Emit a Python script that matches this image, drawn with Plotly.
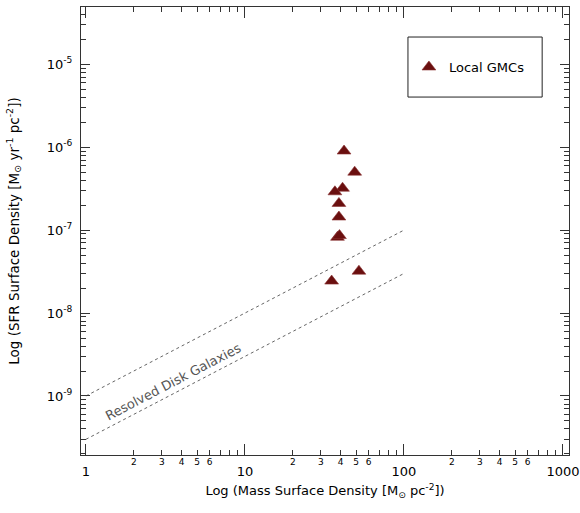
import plotly.graph_objects as go

# Local GMC data (Mass surface density [Msun pc^-2], SFR surface density [Msun yr^-1 pc^-2])
gmc_mass = [42.0, 49.0, 41.1, 36.8, 39.0, 39.0, 38.2, 39.3, 52.1, 35.1]
gmc_sfr = [9.0e-7, 5.0e-7, 3.2e-7, 2.9e-7, 2.1e-7, 1.44e-7, 8.2e-8, 8.6e-8, 3.2e-8, 2.43e-8]

# Resolved disk galaxy relation (upper and lower bounds)
disk_mass = [1, 100]
disk_sfr_upper = [1e-9, 1e-7]
disk_sfr_lower = [3e-10, 3e-8]

x_major = [1, 10, 100, 1000]
x_major_text = ["1", "10", "100", "1000"]
x_minor_lab = [2, 3, 4, 5, 6, 20, 30, 40, 50, 60, 200, 300, 400, 500, 600]
x_minor_text = ["2", "3", "4", "5", "6"] * 3
y_major = [1e-9, 1e-8, 1e-7, 1e-6, 1e-5]
y_major_text = ["10<sup>-9</sup>", "10<sup>-8</sup>", "10<sup>-7</sup>", "10<sup>-6</sup>", "10<sup>-5</sup>"]

x_minor = [m * 10 ** e for e in range(0, 3) for m in range(2, 10)]
y_minor = [m * 10.0 ** e for e in range(-10, -4) for m in range(2, 10)]

FONT = "DejaVu Sans"
AX = "#333333"
MARKER = "#6a0f0f"

fig = go.Figure()
fig.add_trace(go.Scatter(x=disk_mass, y=disk_sfr_upper, mode="lines",
                         line=dict(color="#666666", width=1, dash="dot"),
                         showlegend=False, hoverinfo="skip"))
fig.add_trace(go.Scatter(x=disk_mass, y=disk_sfr_lower, mode="lines",
                         line=dict(color="#666666", width=1, dash="dot"),
                         showlegend=False, hoverinfo="skip"))
fig.add_trace(go.Scatter(x=gmc_mass, y=gmc_sfr, mode="markers", name="Local GMCs",
                         marker=dict(symbol="triangle-up", size=12, color=MARKER,
                                     line=dict(color="#8a3030", width=0.6))))
# invisible trace on secondary axis carrying the small minor tick labels
fig.add_trace(go.Scatter(x=[1], y=[1e-9], xaxis="x2", mode="markers",
                         marker=dict(opacity=0), showlegend=False, hoverinfo="skip"))

fig.add_annotation(x=0.553, y=-8.83, xref="x", yref="y", text="Resolved Disk Galaxies",
                   textangle=-27.6, showarrow=False,
                   font=dict(family=FONT, size=13, color="#555555"))

xr = [-0.031, 3.038]
fig.update_layout(
    width=580, height=513,
    margin=dict(l=81, r=11, t=7, b=58),
    plot_bgcolor="white", paper_bgcolor="white",
    font=dict(family=FONT, size=13, color="black"),
    xaxis=dict(type="log", range=xr, tickmode="array", tickvals=x_major, ticktext=x_major_text,
               ticks="inside", ticklen=11, tickcolor=AX, showline=True, linecolor=AX, linewidth=1,
               mirror="ticks", showgrid=False, zeroline=False, ticklabelstandoff=4,
               automargin=False, tickfont=dict(family=FONT, size=13),
               minor=dict(tickmode="array", tickvals=x_minor, ticks="inside", ticklen=5,
                          tickcolor=AX, showgrid=False),
               title=dict(text="Log (Mass Surface Density [M<sub>⊙</sub> pc<sup>-2</sup>])",
                          font=dict(family=FONT, size=13), standoff=8)),
    xaxis2=dict(type="log", range=xr, overlaying="x", anchor="y", side="bottom",
                tickmode="array", tickvals=x_minor_lab, ticktext=x_minor_text,
                ticks="", showline=False, showgrid=False, zeroline=False, automargin=False,
                tickfont=dict(family=FONT, size=9), ticklabelstandoff=0),
    yaxis=dict(type="log", range=[-9.712, -4.309], tickmode="array", tickvals=y_major,
               ticktext=y_major_text, ticks="inside", ticklen=9, tickcolor=AX,
               showline=True, linecolor=AX, linewidth=1, mirror="ticks", automargin=False,
               showgrid=False, zeroline=False, tickfont=dict(family=FONT, size=13),
               ticklabelstandoff=5,
               minor=dict(tickmode="array", tickvals=y_minor, ticks="inside", ticklen=5,
                          tickcolor=AX, showgrid=False),
               title=dict(text="Log (SFR Surface Density [M<sub>⊙</sub> yr<sup>-1</sup> pc<sup>-2</sup>])",
                          font=dict(family=FONT, size=13.5), standoff=24)),
    legend=dict(x=0.672, y=0.866, xanchor="left", yanchor="middle", bgcolor="rgba(0,0,0,0)",
                borderwidth=0, font=dict(family=FONT, size=13)),
    shapes=[dict(type="rect", xref="paper", yref="paper", x0=0.670, x1=0.945, y0=0.799, y1=0.933,
                 line=dict(color="#222222", width=1))],
)

fig.write_html("out.html", config={"displayModeBar": False},
               post_script="document.body.style.margin='0';")
